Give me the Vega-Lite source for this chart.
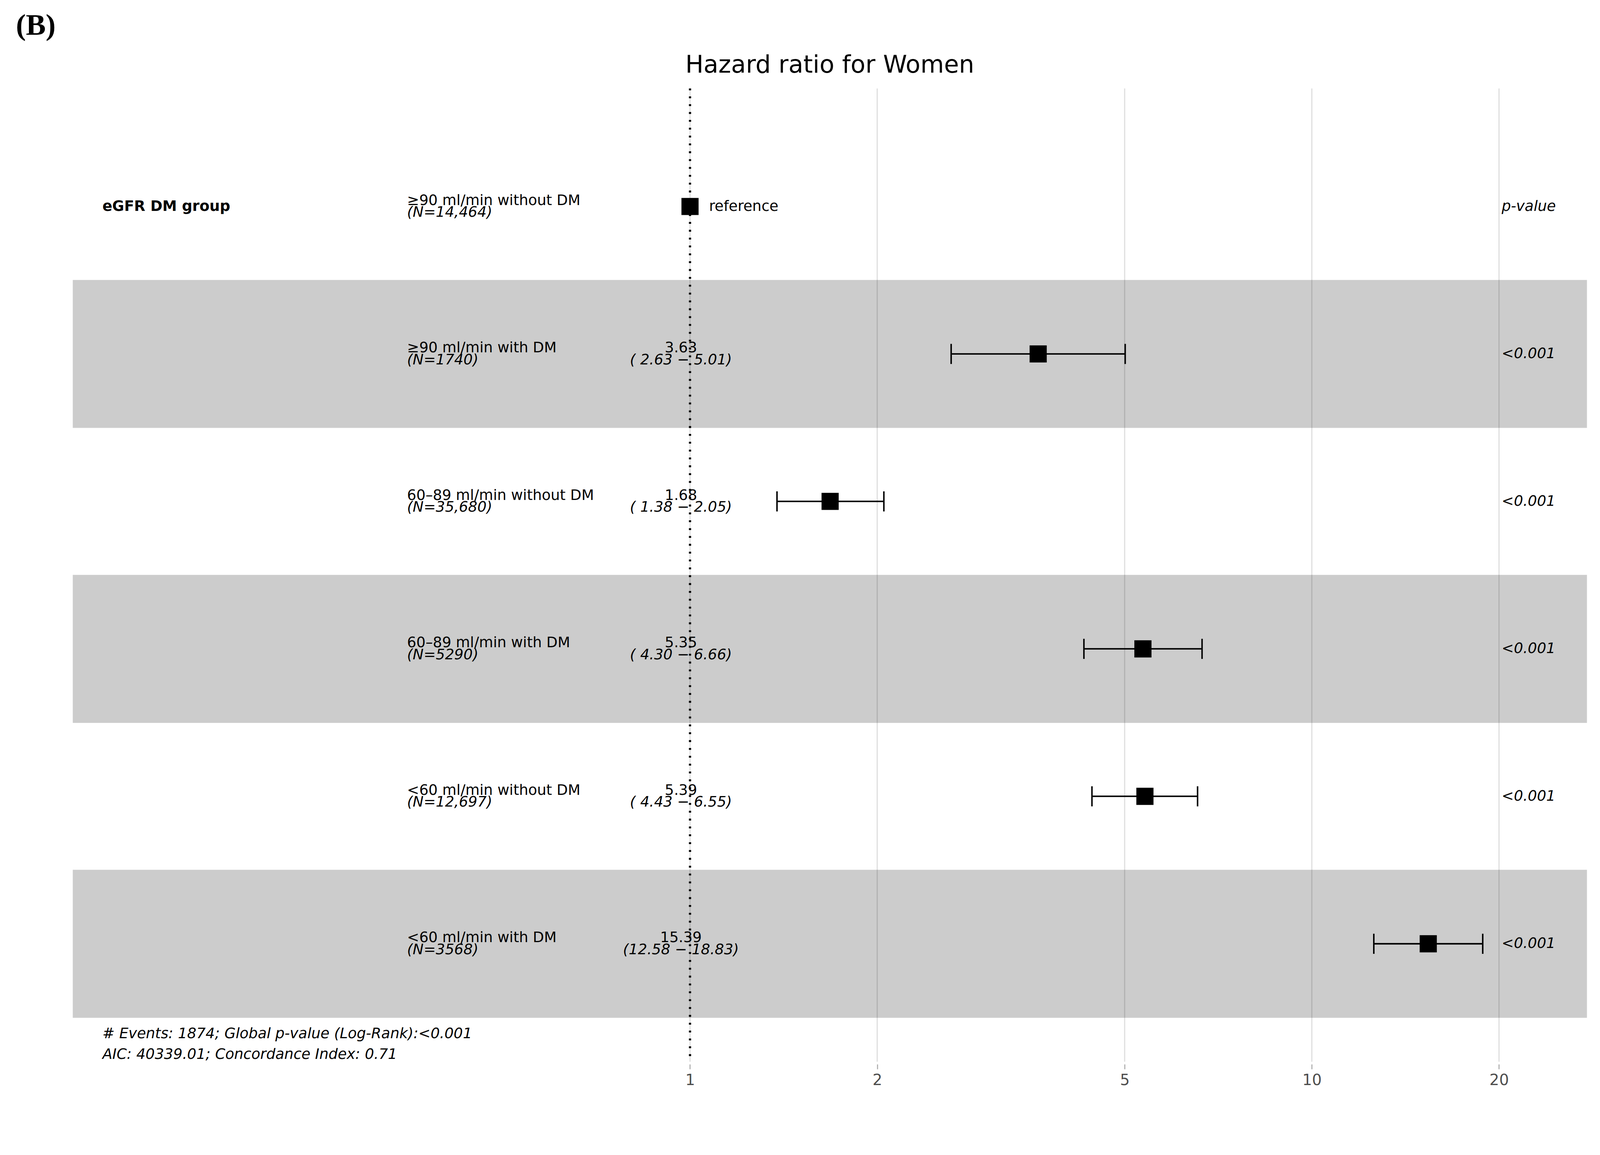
{
  "$schema": "https://vega.github.io/schema/vega-lite/v6.json",
  "width": 4096,
  "height": 2822,
  "autosize": {"type": "fit", "contains": "padding"},
  "padding": 0,
  "background": "white",
  "config": {"view": {"stroke": null}, "text": {"font": "DejaVu Sans", "fontSize": 37.2, "color": "black"}},
  "datasets": {
    "rows": [
      {"row": 1, "var": "eGFR DM group", "level": "≥90 ml/min without DM", "n": "(N=14,464)", "hr": 1, "low": null, "high": null, "est": "", "ci": "", "ref": "reference", "p": "p-value"},
      {"row": 2, "var": "", "level": "≥90 ml/min with DM", "n": "(N=1740)", "hr": 3.63, "low": 2.63, "high": 5.01, "est": "3.63", "ci": "( 2.63 − 5.01)", "ref": "", "p": "<0.001"},
      {"row": 3, "var": "", "level": "60–89 ml/min without DM", "n": "(N=35,680)", "hr": 1.68, "low": 1.38, "high": 2.05, "est": "1.68", "ci": "( 1.38 − 2.05)", "ref": "", "p": "<0.001"},
      {"row": 4, "var": "", "level": "60–89 ml/min with DM", "n": "(N=5290)", "hr": 5.35, "low": 4.30, "high": 6.66, "est": "5.35", "ci": "( 4.30 − 6.66)", "ref": "", "p": "<0.001"},
      {"row": 5, "var": "", "level": "<60 ml/min without DM", "n": "(N=12,697)", "hr": 5.39, "low": 4.43, "high": 6.55, "est": "5.39", "ci": "( 4.43 − 6.55)", "ref": "", "p": "<0.001"},
      {"row": 6, "var": "", "level": "<60 ml/min with DM", "n": "(N=3568)", "hr": 15.39, "low": 12.58, "high": 18.83, "est": "15.39", "ci": "(12.58 − 18.83)", "ref": "", "p": "<0.001"}
    ],
    "gridlines": [{"tick": 1}, {"tick": 2}, {"tick": 5}, {"tick": 10}, {"tick": 20}],
    "notes": [{"note": "# Events: 1874; Global p-value (Log-Rank):<0.001\nAIC: 40339.01; Concordance Index: 0.71"}],
    "panel": [{"label": "(B)"}],
    "heading": [{"title": "Hazard ratio for Women"}]
  },
  "data": {"name": "rows"},
  "layer": [
    {
      "data": {"name": "gridlines"},
      "mark": {"type": "rule", "color": "#DEDEDE", "strokeWidth": 2.9},
      "encoding": {
        "x": {"field": "tick", "type": "quantitative", "scale": {"type": "log", "domain": [0.07768, 29.07], "nice": false, "zero": false},
          "axis": {"values": [1, 2, 5, 10, 20], "format": "d", "title": null, "offset": -97.4, "labelFontSize": 39.1, "labelColor": "#4D4D4D", "labelFont": "DejaVu Sans", "tickColor": "#B3B3B3", "tickSize": 12.4, "tickWidth": 2.9, "domain": false, "grid": false, "labelPadding": 9.5}},
        "y": {"datum": 0.2, "type": "quantitative", "scale": {"domain": [-0.3869, 7.0615], "reverse": true, "nice": false, "zero": false}, "axis": null},
        "y2": {"datum": 6.8}
      }
    },
    {
      "transform": [{"filter": "datum.row % 2 == 0"}],
      "mark": {"type": "bar", "color": "black", "opacity": 0.2, "size": 378.9, "orient": "horizontal"},
      "encoding": {
        "x": {"datum": 0.1017, "type": "quantitative", "scale": {"type": "log", "domain": [0.07768, 29.07], "nice": false, "zero": false}},
        "x2": {"datum": 27.7},
        "y": {"field": "row", "type": "quantitative", "scale": {"domain": [-0.3869, 7.0615], "reverse": true, "nice": false, "zero": false}, "axis": null}
      }
    },
    {
      "data": {"name": "panel"},
      "mark": {"type": "rule", "strokeDash": [4.8, 15.3], "strokeWidth": 5.7, "color": "black"},
      "encoding": {
        "x": {"datum": 1, "type": "quantitative", "scale": {"type": "log", "domain": [0.07768, 29.07], "nice": false, "zero": false}},
        "y": {"datum": 0.2, "type": "quantitative", "scale": {"domain": [-0.3869, 7.0615], "reverse": true, "nice": false, "zero": false}, "axis": null},
        "y2": {"datum": 6.8}
      }
    },
    {
      "mark": {"type": "rule", "strokeWidth": 3.8, "color": "black"},
      "encoding": {
        "x": {"field": "low", "type": "quantitative", "scale": {"type": "log", "domain": [0.07768, 29.07], "nice": false, "zero": false}},
        "x2": {"field": "high"},
        "y": {"field": "row", "type": "quantitative", "scale": {"domain": [-0.3869, 7.0615], "reverse": true, "nice": false, "zero": false}, "axis": null}
      }
    },
    {
      "mark": {"type": "tick", "orient": "vertical", "size": 51.5, "thickness": 3.8, "color": "black", "opacity": 1},
      "encoding": {
        "x": {"field": "low", "type": "quantitative", "scale": {"type": "log", "domain": [0.07768, 29.07], "nice": false, "zero": false}},
        "y": {"field": "row", "type": "quantitative", "scale": {"domain": [-0.3869, 7.0615], "reverse": true, "nice": false, "zero": false}, "axis": null}
      }
    },
    {
      "mark": {"type": "tick", "orient": "vertical", "size": 51.5, "thickness": 3.8, "color": "black", "opacity": 1},
      "encoding": {
        "x": {"field": "high", "type": "quantitative", "scale": {"type": "log", "domain": [0.07768, 29.07], "nice": false, "zero": false}},
        "y": {"field": "row", "type": "quantitative", "scale": {"domain": [-0.3869, 7.0615], "reverse": true, "nice": false, "zero": false}, "axis": null}
      }
    },
    {
      "mark": {"type": "point", "shape": "square", "filled": true, "size": 1927, "color": "black", "opacity": 1},
      "encoding": {
        "x": {"field": "hr", "type": "quantitative", "scale": {"type": "log", "domain": [0.07768, 29.07], "nice": false, "zero": false}},
        "y": {"field": "row", "type": "quantitative", "scale": {"domain": [-0.3869, 7.0615], "reverse": true, "nice": false, "zero": false}, "axis": null}
      }
    },
    {
      "mark": {"type": "text", "align": "left", "baseline": "middle", "fontWeight": "bold"},
      "encoding": {
        "x": {"datum": 0.1135, "type": "quantitative", "scale": {"type": "log", "domain": [0.07768, 29.07], "nice": false, "zero": false}},
        "y": {"field": "row", "type": "quantitative", "scale": {"domain": [-0.3869, 7.0615], "reverse": true, "nice": false, "zero": false}, "axis": null},
        "text": {"field": "var"}
      }
    },
    {
      "mark": {"type": "text", "align": "left", "baseline": "alphabetic", "dy": -3.8},
      "encoding": {
        "x": {"datum": 0.3507, "type": "quantitative", "scale": {"type": "log", "domain": [0.07768, 29.07], "nice": false, "zero": false}},
        "y": {"field": "row", "type": "quantitative", "scale": {"domain": [-0.3869, 7.0615], "reverse": true, "nice": false, "zero": false}, "axis": null},
        "text": {"field": "level"}
      }
    },
    {
      "mark": {"type": "text", "align": "left", "baseline": "alphabetic", "dy": 26.7, "fontStyle": "italic"},
      "encoding": {
        "x": {"datum": 0.3507, "type": "quantitative", "scale": {"type": "log", "domain": [0.07768, 29.07], "nice": false, "zero": false}},
        "y": {"field": "row", "type": "quantitative", "scale": {"domain": [-0.3869, 7.0615], "reverse": true, "nice": false, "zero": false}, "axis": null},
        "text": {"field": "n"}
      }
    },
    {
      "mark": {"type": "text", "align": "center", "baseline": "alphabetic", "dy": -3.8},
      "encoding": {
        "x": {"datum": 0.967, "type": "quantitative", "scale": {"type": "log", "domain": [0.07768, 29.07], "nice": false, "zero": false}},
        "y": {"field": "row", "type": "quantitative", "scale": {"domain": [-0.3869, 7.0615], "reverse": true, "nice": false, "zero": false}, "axis": null},
        "text": {"field": "est"}
      }
    },
    {
      "mark": {"type": "text", "align": "center", "baseline": "alphabetic", "dy": 26.7, "fontStyle": "italic"},
      "encoding": {
        "x": {"datum": 0.967, "type": "quantitative", "scale": {"type": "log", "domain": [0.07768, 29.07], "nice": false, "zero": false}},
        "y": {"field": "row", "type": "quantitative", "scale": {"domain": [-0.3869, 7.0615], "reverse": true, "nice": false, "zero": false}, "axis": null},
        "text": {"field": "ci"}
      }
    },
    {
      "mark": {"type": "text", "align": "left", "baseline": "middle"},
      "encoding": {
        "x": {"datum": 1.073, "type": "quantitative", "scale": {"type": "log", "domain": [0.07768, 29.07], "nice": false, "zero": false}},
        "y": {"field": "row", "type": "quantitative", "scale": {"domain": [-0.3869, 7.0615], "reverse": true, "nice": false, "zero": false}, "axis": null},
        "text": {"field": "ref"}
      }
    },
    {
      "mark": {"type": "text", "align": "left", "baseline": "middle", "fontStyle": "italic"},
      "encoding": {
        "x": {"datum": 20.2, "type": "quantitative", "scale": {"type": "log", "domain": [0.07768, 29.07], "nice": false, "zero": false}},
        "y": {"field": "row", "type": "quantitative", "scale": {"domain": [-0.3869, 7.0615], "reverse": true, "nice": false, "zero": false}, "axis": null},
        "text": {"field": "p"}
      }
    },
    {
      "data": {"name": "notes"},
      "mark": {"type": "text", "align": "left", "baseline": "alphabetic", "fontStyle": "italic", "lineBreak": "\n", "lineHeight": 52.5, "dy": 53.4},
      "encoding": {
        "x": {"datum": 0.1135, "type": "quantitative", "scale": {"type": "log", "domain": [0.07768, 29.07], "nice": false, "zero": false}},
        "y": {"datum": 6.5, "type": "quantitative", "scale": {"domain": [-0.3869, 7.0615], "reverse": true, "nice": false, "zero": false}, "axis": null},
        "text": {"field": "note"}
      }
    },
    {
      "data": {"name": "heading"},
      "mark": {"type": "text", "align": "center", "baseline": "alphabetic", "fontSize": 62, "font": "DejaVu Sans"},
      "encoding": {
        "x": {"datum": 1.678, "type": "quantitative", "scale": {"type": "log", "domain": [0.07768, 29.07], "nice": false, "zero": false}},
        "y": {"datum": 0.0917, "type": "quantitative", "scale": {"domain": [-0.3869, 7.0615], "reverse": true, "nice": false, "zero": false}, "axis": null},
        "text": {"field": "title"}
      }
    },
    {
      "data": {"name": "panel"},
      "mark": {"type": "text", "align": "left", "baseline": "alphabetic", "font": "Liberation Serif", "fontWeight": "bold", "fontSize": 76.3},
      "encoding": {
        "x": {"datum": 0.0824, "type": "quantitative", "scale": {"type": "log", "domain": [0.07768, 29.07], "nice": false, "zero": false}},
        "y": {"datum": -0.165, "type": "quantitative", "scale": {"domain": [-0.3869, 7.0615], "reverse": true, "nice": false, "zero": false}, "axis": null},
        "text": {"field": "label"}
      }
    }
  ]
}
